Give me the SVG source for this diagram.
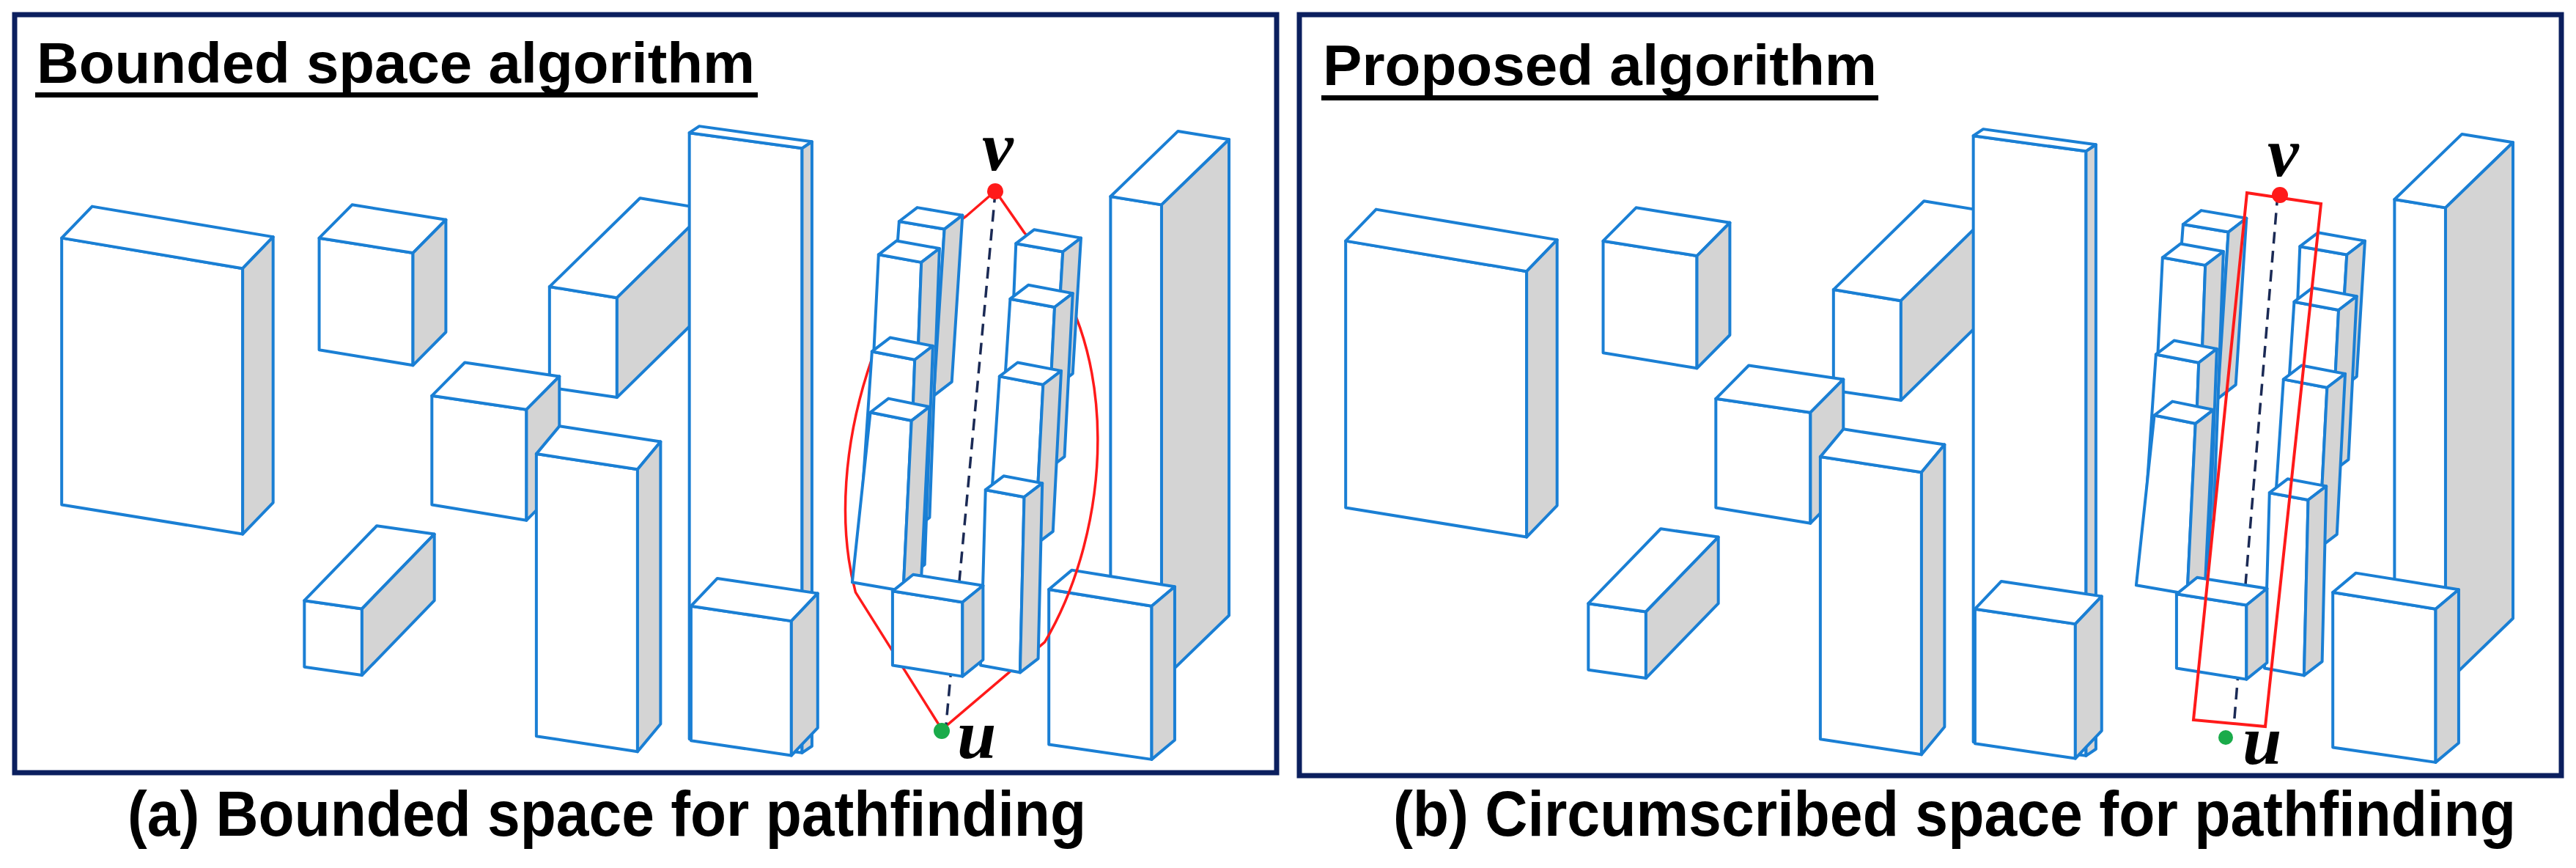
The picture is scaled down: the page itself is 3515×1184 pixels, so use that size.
<svg xmlns="http://www.w3.org/2000/svg" xmlns:xlink="http://www.w3.org/1999/xlink" width="3515" height="1184" viewBox="0 0 3515 1184">
<style>
.frame{fill:#fff;stroke:#0b1f5e;stroke-width:7}
.f{fill:#fff;stroke:#1a7fd4;stroke-width:4;stroke-linejoin:round;vector-effect:non-scaling-stroke}
.s{fill:#d4d4d4;stroke:#1a7fd4;stroke-width:4;stroke-linejoin:round;vector-effect:non-scaling-stroke}
.red{fill:none;stroke:#ff1a1a;stroke-width:3.5;vector-effect:non-scaling-stroke}
.dash{fill:none;stroke:#1b2a55;stroke-width:3.5;stroke-dasharray:16 10;vector-effect:non-scaling-stroke}
.title{font-family:"Liberation Sans",Arial,sans-serif;font-weight:bold;font-size:78px;fill:#000}
.cap{font-family:"Liberation Sans",Arial,sans-serif;font-weight:bold;font-size:88px;fill:#000}
.lab{font-family:"Liberation Serif","DejaVu Serif",serif;font-style:italic;font-weight:bold;font-size:96px;fill:#000}
</style>
<defs>
<g id="city">
<g id="b1"><polygon class="f" points="75,430 295,485 295,965 75,912"/><polygon class="f" points="75,430 295,485 332,428 112,373"/><polygon class="s" points="295,485 332,428 332,908 295,965"/></g>
<g id="b2"><polygon class="f" points="388,430 502,457 502,660 388,632"/><polygon class="f" points="388,430 502,457 542,397 428,370"/><polygon class="s" points="502,457 542,397 542,600 502,660"/></g>
<g id="b3"><polygon class="f" points="668,518 750,538 750,718 668,700"/><polygon class="f" points="668,518 750,538 860,378 778,358"/><polygon class="s" points="750,538 860,378 860,558 750,718"/></g>
<g id="b5"><polygon class="f" points="838,240 975,268 975,1360 838,1335"/><polygon class="f" points="838,240 975,268 987,256 850,228"/><polygon class="s" points="975,268 987,256 987,1348 975,1360"/></g>
<g id="b4"><polygon class="f" points="525,715 640,740 640,940 525,912"/><polygon class="f" points="525,715 640,740 680,680 565,655"/><polygon class="s" points="640,740 680,680 680,880 640,940"/></g>
<g id="b6"><polygon class="f" points="652,820 775,848 775,1358 652,1330"/><polygon class="f" points="652,820 775,848 803,798 680,770"/><polygon class="s" points="775,848 803,798 803,1308 775,1358"/></g>
<g id="b7"><polygon class="f" points="370,1085 440,1100 440,1220 370,1205"/><polygon class="f" points="370,1085 440,1100 528,965 458,950"/><polygon class="s" points="440,1100 528,965 528,1085 440,1220"/></g>
<g id="b8"><polygon class="f" points="840,1095 962,1122 962,1365 840,1338"/><polygon class="f" points="840,1095 962,1122 994,1072 872,1045"/><polygon class="s" points="962,1122 994,1072 994,1315 962,1365"/></g>
<g id="b9"><polygon class="f" points="1350,355 1412,370 1412,1230 1350,1215"/><polygon class="f" points="1350,355 1412,370 1494,252 1432,237"/><polygon class="s" points="1412,370 1494,252 1494,1112 1412,1230"/></g>
<g id="b10"><polygon class="f" points="1275,1065 1400,1095 1400,1372 1275,1345"/><polygon class="f" points="1275,1065 1400,1095 1428,1060 1303,1030"/><polygon class="s" points="1400,1095 1428,1060 1428,1337 1400,1372"/></g>
</g>
<g id="cluster">
<g id="c1"><polygon class="f" points="1093,400 1148,414 1135,715 1078,700"/><polygon class="f" points="1093,400 1148,414 1170,389 1115,375"/><polygon class="s" points="1148,414 1170,389 1157,690 1135,715"/></g>
<g id="d1"><polygon class="f" points="1235,440 1292,455 1282,700 1228,688"/><polygon class="f" points="1235,440 1292,455 1314,430 1257,415"/><polygon class="s" points="1292,455 1314,430 1304,675 1282,700"/></g>
<g id="c2"><polygon class="f" points="1068,460 1120,474 1108,960 1052,945"/><polygon class="f" points="1068,460 1120,474 1142,449 1090,435"/><polygon class="s" points="1120,474 1142,449 1130,935 1108,960"/></g>
<g id="d2"><polygon class="f" points="1228,540 1282,555 1272,850 1215,838"/><polygon class="f" points="1228,540 1282,555 1304,530 1250,515"/><polygon class="s" points="1282,555 1304,530 1294,825 1272,850"/></g>
<g id="c3"><polygon class="f" points="1060,635 1112,650 1102,1045 1042,1030"/><polygon class="f" points="1060,635 1112,650 1134,625 1082,610"/><polygon class="s" points="1112,650 1134,625 1124,1020 1102,1045"/></g>
<g id="d3"><polygon class="f" points="1215,680 1268,695 1258,985 1202,972"/><polygon class="f" points="1215,680 1268,695 1290,670 1237,655"/><polygon class="s" points="1268,695 1290,670 1280,960 1258,985"/></g>
<g id="c4"><polygon class="f" points="1058,745 1108,760 1098,1068 1036,1052"/><polygon class="f" points="1058,745 1108,760 1130,735 1080,720"/><polygon class="s" points="1108,760 1130,735 1120,1043 1098,1068"/></g>
<g id="d4"><polygon class="f" points="1198,885 1245,898 1240,1215 1192,1202"/><polygon class="f" points="1198,885 1245,898 1267,873 1220,860"/><polygon class="s" points="1245,898 1267,873 1262,1190 1240,1215"/></g>
<g id="c5"><polygon class="f" points="1085,1068 1170,1088 1170,1222 1085,1202"/><polygon class="f" points="1085,1068 1170,1088 1195,1058 1110,1038"/><polygon class="s" points="1170,1088 1195,1058 1195,1192 1170,1222"/></g>
</g>
</defs>

<g id="panel-a">
<rect class="frame" x="20" y="20" width="1722" height="1034"/>
<text class="title" x="50" y="113" textLength="980" lengthAdjust="spacingAndGlyphs">Bounded space algorithm</text>
<rect x="48" y="126" width="986" height="7" fill="#000"/>
<g transform="matrix(1.1225 0 0 0.755 0 0)">
<use xlink:href="#city"/>
<g id="connectors-a">
<path class="red" d="M1210,345 L1175,390 C1080,480 995,820 1040,1070 L1145,1318"/>
<path class="red" d="M1210,345 L1245,420 C1370,620 1350,960 1270,1160 L1145,1318"/>
<path class="dash" d="M1210,345 L1150,1310"/>
</g>
<use xlink:href="#cluster"/>
</g>
<circle id="v-a" cx="1358" cy="261" r="11" fill="#ff1a1a"/>
<circle id="u-a" cx="1285" cy="997" r="11" fill="#1aab4a"/>
<text class="lab" x="1340" y="232">v</text>
<text class="lab" x="1306" y="1034">u</text>
</g>

<g id="panel-b">
<rect class="frame" x="1773" y="20" width="1722" height="1038"/>
<text class="title" x="1805" y="116" textLength="756" lengthAdjust="spacingAndGlyphs">Proposed algorithm</text>
<rect x="1803" y="130" width="760" height="7" fill="#000"/>
<g transform="translate(1752,4) matrix(1.1225 0 0 0.755 0 0)">
<use xlink:href="#city"/>
<path class="dash" d="M1208,345 L1155,1300"/>
<use xlink:href="#cluster"/>
</g>
<g id="connectors-b">
<polygon class="red" points="3066,263 3167,278 3091,991 2993,982" style="stroke-width:4"/>
</g>
<circle id="v-b" cx="3111" cy="266" r="11" fill="#ff1a1a"/>
<circle id="u-b" cx="3037" cy="1006" r="10" fill="#1aab4a"/>
<text class="lab" x="3094" y="240">v</text>
<text class="lab" x="3060" y="1042">u</text>
</g>

<text class="cap" x="174" y="1140" textLength="1308" lengthAdjust="spacingAndGlyphs">(a) Bounded space for pathfinding</text>
<text class="cap" x="1901" y="1140" textLength="1532" lengthAdjust="spacingAndGlyphs">(b) Circumscribed space for pathfinding</text>
</svg>
